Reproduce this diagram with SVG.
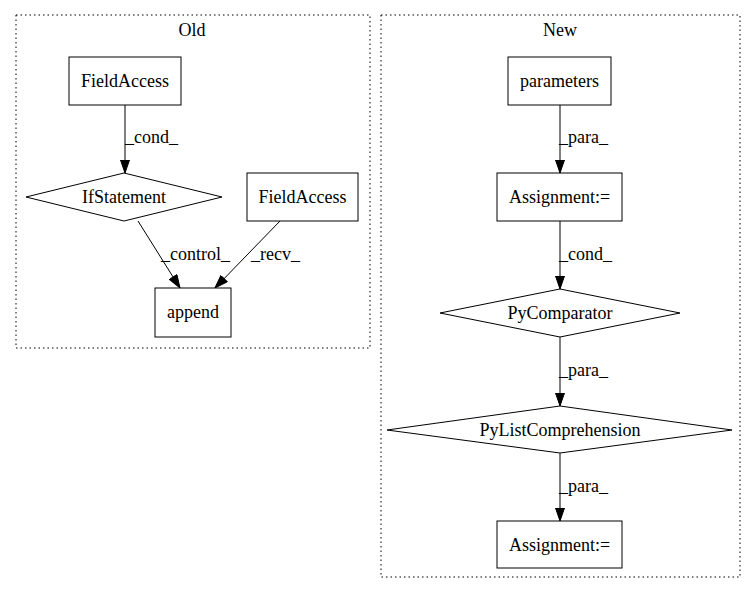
<svg xmlns="http://www.w3.org/2000/svg" width="756" height="596" viewBox="0 0 756 596">
<style>
text{font-family:"Liberation Serif","Times New Roman",serif;font-size:18px;fill:#000;text-anchor:middle}
.cl{fill:none;stroke:#000;stroke-width:1;stroke-dasharray:1.5,3}
.n{fill:#fff;stroke:#000;stroke-width:1}
.e{fill:none;stroke:#000;stroke-width:1}
.lbl{text-anchor:start}
</style>
<defs>
<marker id="ah" markerUnits="userSpaceOnUse" markerWidth="14" markerHeight="10" refX="13.5" refY="5" orient="auto">
<path d="M0.5,0.5 L13.5,5 L0.5,9.5 z" fill="#000" stroke="#000"/>
</marker>
</defs>
<rect width="756" height="596" fill="#fff"/>
<g id="cluster_old">
<rect class="cl" x="16" y="15" width="354" height="333"/>
<text x="192" y="36">Old</text>
</g>
<g id="cluster_new">
<rect class="cl" x="381" y="15" width="359" height="562"/>
<text x="560" y="36">New</text>
</g>
<g id="connectors">
<path class="e" d="M125,105 L125,173" marker-end="url(#ah)"/>
<text class="lbl" x="125" y="143">_cond_</text>
<path class="e" d="M138,221 L180,288" marker-end="url(#ah)"/>
<text class="lbl" x="161" y="260">_control_</text>
<path class="e" d="M280,221 L215,288" marker-end="url(#ah)"/>
<text class="lbl" x="251" y="260">_recv_</text>
<path class="e" d="M560,105 L560,173" marker-end="url(#ah)"/>
<text class="lbl" x="559" y="143">_para_</text>
<path class="e" d="M560,221 L560,289" marker-end="url(#ah)"/>
<text class="lbl" x="559" y="260">_cond_</text>
<path class="e" d="M560,337 L560,406" marker-end="url(#ah)"/>
<text class="lbl" x="559" y="376">_para_</text>
<path class="e" d="M560,453 L560,521" marker-end="url(#ah)"/>
<text class="lbl" x="559" y="492">_para_</text>
</g>
<g id="fieldaccess1">
<rect class="n" x="69" y="57" width="112" height="48"/>
<text x="125" y="87">FieldAccess</text>
</g>
<g id="ifstatement">
<polygon class="n" points="124,173 222,197 124,221 26,197"/>
<text x="124" y="203">IfStatement</text>
</g>
<g id="fieldaccess2">
<rect class="n" x="247" y="173" width="111" height="48"/>
<text x="302.5" y="203">FieldAccess</text>
</g>
<g id="append">
<rect class="n" x="155" y="288" width="76" height="49"/>
<text x="193" y="318">append</text>
</g>
<g id="parameters">
<rect class="n" x="508" y="57" width="103" height="48"/>
<text x="559.5" y="87">parameters</text>
</g>
<g id="assignment1">
<rect class="n" x="497" y="173" width="125" height="48"/>
<text x="559.5" y="203">Assignment:=</text>
</g>
<g id="pycomparator">
<polygon class="n" points="560,289 680,313 560,337 440,313"/>
<text x="560" y="319">PyComparator</text>
</g>
<g id="pylistcomprehension">
<polygon class="n" points="560,406 732,430 560,453 387,430"/>
<text x="560" y="436">PyListComprehension</text>
</g>
<g id="assignment2">
<rect class="n" x="497" y="521" width="125" height="47"/>
<text x="559.5" y="551">Assignment:=</text>
</g>
</svg>
